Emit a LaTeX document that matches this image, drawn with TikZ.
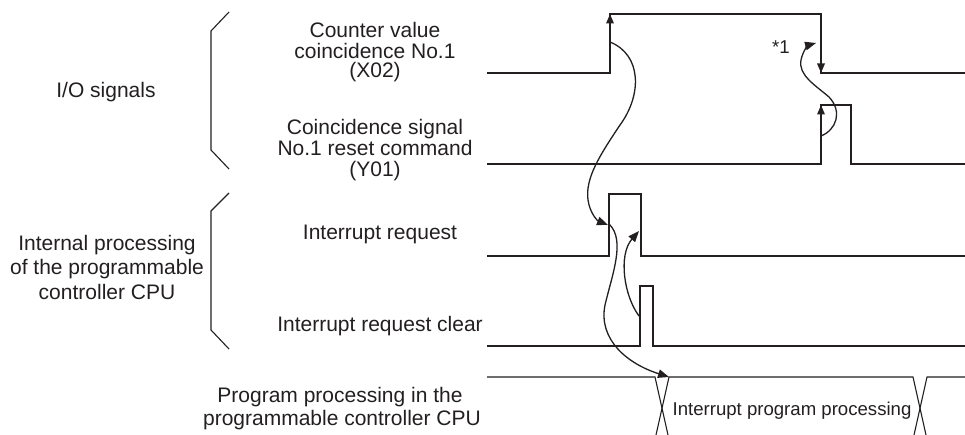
\documentclass[tikz,border=0pt]{standalone}
\usepackage{fontspec}
\setmainfont{Liberation Sans}
\usetikzlibrary{arrows.meta}
\definecolor{ink}{RGB}{35,31,32}
\begin{document}
\begin{tikzpicture}[x=1pt,y=-1pt,
  sig/.style={draw=ink,line width=1.6pt,line join=miter},
  brk/.style={draw=ink,line width=1.1pt},
  xln/.style={draw=ink,line width=1.1pt},
  cur/.style={draw=ink,line width=1.3pt,-{Triangle[length=11pt,width=8.5pt]}},
  edgearr/.style={draw=ink,line width=1.6pt,-{Triangle[length=9.5pt,width=7.5pt]}},
  lbl/.style={text=ink,font=\fontsize{21}{21}\selectfont,anchor=base,inner sep=0pt},
  smalllbl/.style={text=ink,font=\fontsize{18.6}{19}\selectfont,anchor=base,inner sep=0pt}]
\useasboundingbox (0,0) rectangle (965,435);

% brackets
\draw[brk] (229,12)--(211,31)--(211,150)--(229,169);
\draw[brk] (229,193)--(211,211)--(211,330)--(229,349);

% labels
\node[lbl] (io) at (106,98) {I/O signals};
\node[lbl] (x02a) at (375,38) {Counter value};
\node[lbl] (x02b) at (375,58.5) {coincidence No.1};
\node[lbl] (x02c) at (375,78) {(X02)};
\node[lbl] (y01a) at (375,135) {Coincidence signal};
\node[lbl] (y01b) at (375,156) {No.1 reset command};
\node[lbl] (y01c) at (375,176.5) {(Y01)};
\node[lbl] (ipa) at (107,251) {Internal processing};
\node[lbl] (ipb) at (107,275) {of the programmable};
\node[lbl] (ipc) at (107,299.5) {controller CPU};
\node[lbl] (irq) at (380,239.5) {Interrupt request};
\node[lbl] (irqc) at (380,331.5) {Interrupt request clear};
\node[lbl] (ppa) at (340,402.5) {Program processing in the};
\node[lbl] (ppb) at (342,425) {programmable controller CPU};
\node[smalllbl] (ipp) at (792,415) {Interrupt program processing};
\node[smalllbl] (star) at (781,54) {*1};

% signals
\draw[sig] (487,73)--(610,73)--(610,14)--(821,14)--(821,73)--(965,73);
\draw[sig] (487,164)--(821,164)--(821,105)--(851,105)--(851,164)--(965,164);
\draw[sig] (487,256)--(609,256)--(609,194)--(641,194)--(641,256)--(965,256);
\draw[sig] (487,346)--(640,346)--(640,286)--(653,286)--(653,346)--(965,346);

% edge arrows
\draw[edgearr] (610,40)--(610,14);
\draw[edgearr] (821,45)--(821,73);
\draw[edgearr] (821,135)--(821,105);

% program processing
\draw[xln] (487,377)--(655,377)--(668,435);
\draw[xln] (656,435)--(669,377)--(913,377)--(926,435);
\draw[xln] (914,435)--(927,377)--(965,377);

% coordinates for connectors
\coordinate (aS) at (610,42);
\coordinate (aE) at (608,225);
\coordinate (bS) at (821,136);
\coordinate (bE) at (816,43);
\coordinate (cS) at (639,316);
\coordinate (cE) at (639,231);
\coordinate (dS) at (609,224);
\coordinate (dE) at (669,377);

% curved connectors
\draw[cur] (aS) .. controls (642,55) and (642,95) .. (620,125)
  .. controls (600,155) and (585,178) .. (588,200)
  .. controls (590,214) and (598,221) .. (aE);
\draw[cur] (bS) .. controls (836,130) and (843,112) .. (829,97)
  .. controls (815,85) and (798,75) .. (801,60)
  .. controls (803,50) and (809,45) .. (bE);
\draw[cur] (cS) .. controls (624,296) and (618,255) .. (cE);
\draw[cur] (dS) .. controls (626,240) and (612,275) .. (605,305)
  .. controls (598,340) and (628,364) .. (dE);
\end{tikzpicture}
\end{document}
